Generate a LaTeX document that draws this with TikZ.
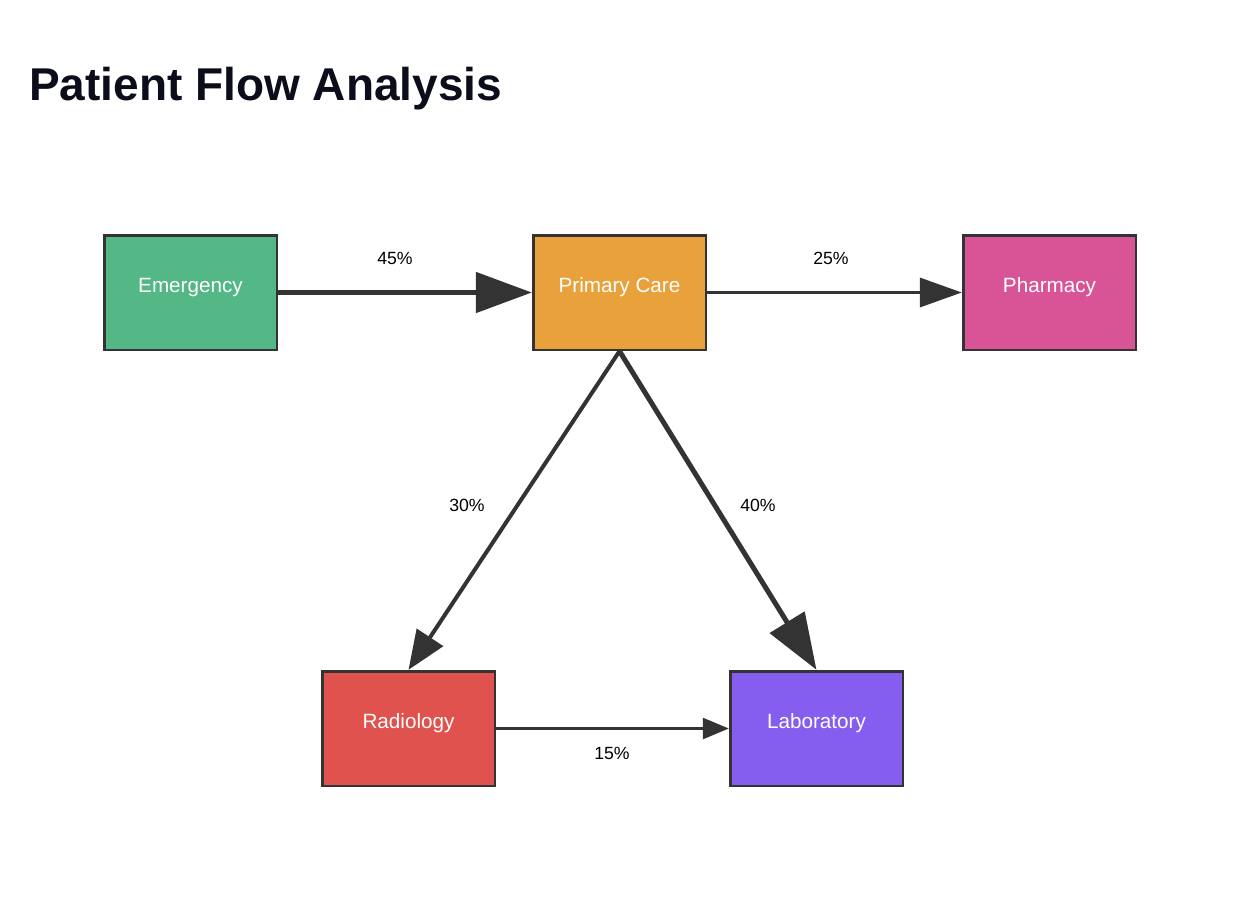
\documentclass[tikz,border=0pt]{standalone}
\usepackage{fontspec}
\setmainfont{Liberation Sans}
\usetikzlibrary{arrows.meta}

\definecolor{ink}{HTML}{333333}
\definecolor{titleink}{HTML}{0B0E1A}
\definecolor{emerg}{HTML}{53B786}
\definecolor{primcare}{HTML}{E9A13B}
\definecolor{pharm}{HTML}{D95496}
\definecolor{radio}{HTML}{DF524D}
\definecolor{labor}{HTML}{855EEF}

\begin{document}
\begin{tikzpicture}[x=0.75pt, y=-0.75pt,
    box/.style = {rectangle, draw=ink, line width=2pt, minimum width=129.5pt, minimum height=86pt, text=white, font=\fontsize{15.5}{18}\selectfont, text height=8pt, text depth=8pt},
    pct/.style = {anchor=base, inner sep=0pt, font=\fontsize{13.25}{15}\selectfont}]
    \useasboundingbox (0,0) rectangle (1240,922);

    \node (title) [anchor=base west, inner sep=0pt, text=titleink, font=\fontsize{34.5}{40}\selectfont\bfseries] at (29, 100) {Patient Flow Analysis};

    \foreach \n/\x/\y/\c/\t in {emergency/190.5/292.5/emerg/Emergency,
                                primary/619.5/292.5/primcare/Primary Care,
                                pharmacy/1049.5/292.5/pharm/Pharmacy,
                                radiology/408.5/728.5/radio/Radiology,
                                laboratory/816.5/728.5/labor/Laboratory}
    {
      \node (\n) [box, fill=\c] at (\x, \y) {\t};
    }

    \foreach \a/\b/\w/\l/\h/\p/\lx/\ly in {emergency.east/primary.west/3.75/42/30/45/395/264,
                                          primary.east/pharmacy.west/2.6/31.5/21.75/25/831/264,
                                          primary.south/radiology.north/3/29.25/23.25/30/467/511,
                                          primary.south/laboratory.north/3.75/42/30/40/758/511,
                                          radiology.east/laboratory.west/1.9/19.5/15.75/15/612/759}
    {
      \draw [draw=ink, line width=\w pt, -{Triangle[length=\l pt, width=\h pt]}] (\a) -- (\b);
      \node (pct\p) [pct] at (\lx, \ly) {\p\%};
    }
  \end{tikzpicture}
\end{document}
